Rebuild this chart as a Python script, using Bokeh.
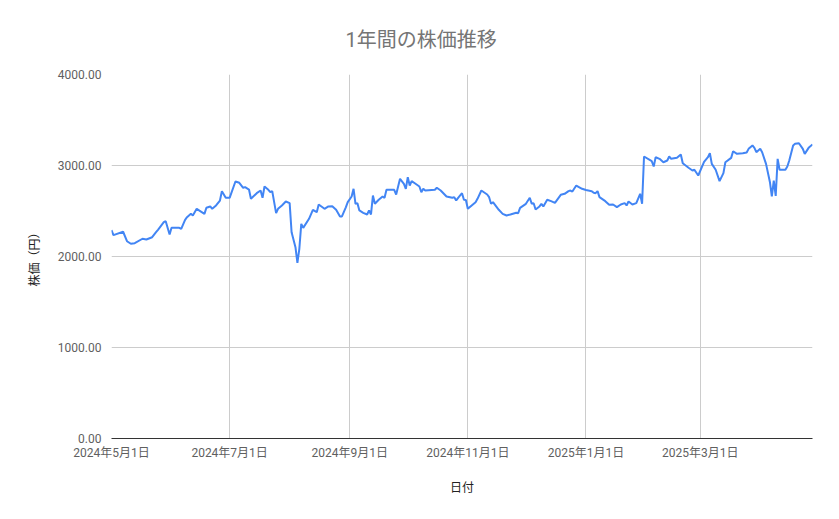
import pandas as pd
from bokeh.plotting import figure
from bokeh.models import (ColumnDataSource, FixedTicker, NumeralTickFormatter,
                          CustomJSTickFormatter, Range1d)
from bokeh.embed import file_html
from bokeh.resources import INLINE

# daily closing prices (yen)
dates = [
    "2024-05-01", "2024-05-02", "2024-05-07", "2024-05-09", "2024-05-11", "2024-05-13",
    "2024-05-17", "2024-05-19", "2024-05-22", "2024-05-24", "2024-05-25", "2024-05-28",
    "2024-05-29", "2024-05-31", "2024-06-01", "2024-06-05", "2024-06-06", "2024-06-08",
    "2024-06-09", "2024-06-11", "2024-06-12", "2024-06-14", "2024-06-18", "2024-06-19",
    "2024-06-21", "2024-06-22", "2024-06-24", "2024-06-26", "2024-06-27", "2024-06-29",
    "2024-07-01", "2024-07-04", "2024-07-06", "2024-07-08", "2024-07-09", "2024-07-11",
    "2024-07-12", "2024-07-15", "2024-07-17", "2024-07-18", "2024-07-19", "2024-07-21",
    "2024-07-22", "2024-07-23", "2024-07-25", "2024-07-26", "2024-07-28", "2024-07-30",
    "2024-08-01", "2024-08-02", "2024-08-04", "2024-08-05", "2024-08-06", "2024-08-07",
    "2024-08-08", "2024-08-11", "2024-08-13", "2024-08-15", "2024-08-16", "2024-08-19",
    "2024-08-21", "2024-08-23", "2024-08-25", "2024-08-27", "2024-08-28", "2024-08-30",
    "2024-08-31", "2024-09-02", "2024-09-03", "2024-09-04", "2024-09-05", "2024-09-06",
    "2024-09-08", "2024-09-10", "2024-09-11", "2024-09-12", "2024-09-13", "2024-09-14",
    "2024-09-16", "2024-09-18", "2024-09-19", "2024-09-20", "2024-09-24", "2024-09-25",
    "2024-09-27", "2024-09-29", "2024-09-30", "2024-10-01", "2024-10-02", "2024-10-03",
    "2024-10-05", "2024-10-07", "2024-10-08", "2024-10-09", "2024-10-10", "2024-10-15",
    "2024-10-16", "2024-10-18", "2024-10-21", "2024-10-24", "2024-10-25", "2024-10-26",
    "2024-10-27", "2024-10-29", "2024-10-30", "2024-10-31", "2024-11-01", "2024-11-03",
    "2024-11-05", "2024-11-06", "2024-11-08", "2024-11-11", "2024-11-12", "2024-11-13",
    "2024-11-14", "2024-11-17", "2024-11-19", "2024-11-21", "2024-11-23", "2024-11-26",
    "2024-11-27", "2024-11-28", "2024-12-01", "2024-12-03", "2024-12-04", "2024-12-05",
    "2024-12-06", "2024-12-08", "2024-12-09", "2024-12-10", "2024-12-12", "2024-12-14",
    "2024-12-16", "2024-12-19", "2024-12-21", "2024-12-23", "2024-12-24", "2024-12-25",
    "2024-12-27", "2024-12-30", "2025-01-01", "2025-01-04", "2025-01-05", "2025-01-06",
    "2025-01-07", "2025-01-08", "2025-01-11", "2025-01-13", "2025-01-15", "2025-01-17",
    "2025-01-19", "2025-01-21", "2025-01-22", "2025-01-23", "2025-01-25", "2025-01-27",
    "2025-01-29", "2025-01-30", "2025-01-31", "2025-02-04", "2025-02-05", "2025-02-06",
    "2025-02-08", "2025-02-10", "2025-02-12", "2025-02-13", "2025-02-14", "2025-02-17",
    "2025-02-19", "2025-02-20", "2025-02-23", "2025-02-25", "2025-02-26", "2025-02-28",
    "2025-03-03", "2025-03-05", "2025-03-06", "2025-03-07", "2025-03-09", "2025-03-11",
    "2025-03-13", "2025-03-14", "2025-03-17", "2025-03-18", "2025-03-20", "2025-03-23",
    "2025-03-25", "2025-03-26", "2025-03-28", "2025-03-29", "2025-03-30", "2025-04-01",
    "2025-04-02", "2025-04-04", "2025-04-06", "2025-04-07", "2025-04-08", "2025-04-09",
    "2025-04-10", "2025-04-11", "2025-04-14", "2025-04-15", "2025-04-16", "2025-04-18",
    "2025-04-19", "2025-04-21", "2025-04-23", "2025-04-24", "2025-04-26", "2025-04-28",
]
prices = [
    2290, 2235, 2272, 2168, 2140, 2146,
    2195, 2187, 2212, 2267, 2293, 2377,
    2388, 2242, 2315, 2315, 2304, 2403,
    2432, 2469, 2451, 2524, 2469, 2535,
    2550, 2524, 2561, 2615, 2718, 2645,
    2645, 2824, 2810, 2755, 2762, 2736,
    2634, 2696, 2725, 2645, 2769, 2733,
    2707, 2718, 2476, 2524, 2561, 2604,
    2586, 2267, 2102, 1930, 2085, 2359,
    2315, 2414, 2513, 2487, 2571, 2524,
    2550, 2553, 2513, 2440, 2440, 2540,
    2597, 2659, 2744, 2579, 2586, 2506,
    2480, 2462, 2506, 2462, 2670, 2579,
    2623, 2659, 2645, 2733, 2733, 2681,
    2854, 2799, 2744, 2872, 2780, 2828,
    2799, 2769, 2707, 2744, 2725, 2733,
    2755, 2725, 2659, 2645, 2652, 2615,
    2645, 2696, 2623, 2620, 2524, 2561,
    2597, 2634, 2725, 2681, 2652, 2579,
    2597, 2513, 2469, 2451, 2462, 2480,
    2476, 2535, 2579, 2645, 2579, 2586,
    2517, 2550, 2579, 2550, 2623, 2608,
    2590, 2678, 2689, 2718, 2725, 2714,
    2780, 2744, 2730, 2718, 2700, 2696,
    2718, 2652, 2608, 2568, 2572, 2542,
    2572, 2586, 2561, 2604, 2572, 2586,
    2689, 2579, 3099, 3047, 2989, 3091,
    3073, 3036, 3055, 3099, 3073, 3084,
    3121, 3025, 2975, 2945, 2953, 2890,
    3040, 3091, 3135, 3018, 2953, 2828,
    2916, 3036, 3084, 3157, 3128, 3135,
    3143, 3183, 3220, 3194, 3146, 3183,
    3146, 3018, 2819, 2660, 2835, 2665,
    3073, 2953, 2953, 2989, 3055, 3220,
    3238, 3245, 3183, 3128, 3194, 3231,
]

x_ticks = ["2024-05-01", "2024-07-01", "2024-09-01", "2024-11-01", "2025-01-01", "2025-03-01"]
y_ticks = [0, 1000, 2000, 3000, 4000]

FONT = "Roboto, 'Noto Sans CJK JP'"

src = ColumnDataSource(data=dict(date=pd.to_datetime(dates), price=prices))
tick_ms = [int(pd.Timestamp(t).value // 10**6) for t in x_ticks]

p = figure(width=823, height=503, x_axis_type="datetime",
           output_backend="svg", toolbar_location=None,
           x_range=Range1d(pd.Timestamp(dates[0]), pd.Timestamp(dates[-1])),
           y_range=Range1d(0, 4000),
           min_border_left=111, min_border_right=11,
           min_border_top=74, min_border_bottom=65)

p.line("date", "price", source=src, line_color="#4285F4", line_width=2)

# title is centred on the whole chart, not on the plot area
p.title.text = "1年間の株価推移"
p.title.align = "left"
p.title.offset = 234
p.title.text_font = FONT
p.title.text_font_size = "20px"
p.title.text_font_style = "normal"
p.title.text_color = "#757575"
p.title.standoff = 46

p.outline_line_color = None
p.background_fill_color = "white"
p.border_fill_color = "white"

p.xaxis.ticker = FixedTicker(ticks=tick_ms)
p.xaxis.formatter = CustomJSTickFormatter(code="""
    const d = new Date(tick);
    return d.getUTCFullYear() + "年" + (d.getUTCMonth() + 1) + "月" + d.getUTCDate() + "日";
""")
p.yaxis.ticker = FixedTicker(ticks=y_ticks)
p.yaxis.formatter = NumeralTickFormatter(format="0.00")

p.xaxis.axis_label = "日付"
p.yaxis.axis_label = "株価（円）"

for ax in (p.xaxis, p.yaxis):
    ax.major_tick_line_color = None
    ax.minor_tick_line_color = None
    ax.major_label_text_font = FONT
    ax.major_label_text_font_size = "12px"
    ax.major_label_text_color = "#5f5f5f"
    ax.axis_label_text_font = FONT
    ax.axis_label_text_font_size = "12px"
    ax.axis_label_text_font_style = "normal"
    ax.axis_label_text_color = "#222222"

p.xaxis.axis_line_color = "#333333"
p.yaxis.axis_line_color = None
p.xaxis.major_label_standoff = 1
p.xaxis.axis_label_standoff = 18
p.yaxis.major_label_standoff = 4
p.yaxis.axis_label_standoff = 13

p.xgrid.grid_line_color = "#cccccc"
p.ygrid.grid_line_color = "#cccccc"

open("out.html", "w").write(file_html(p, INLINE))
